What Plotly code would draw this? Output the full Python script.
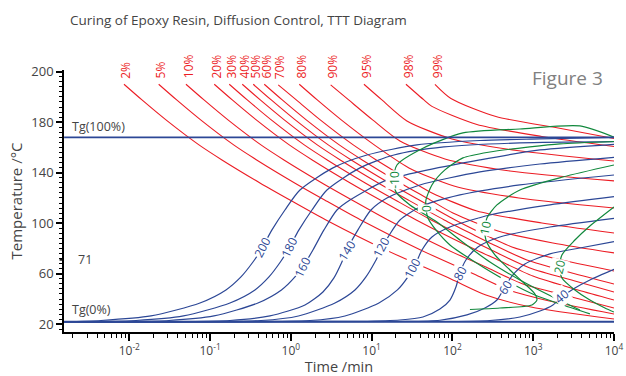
import math
import plotly.graph_objects as go

# ---------------- data (time in min, temperature in degC) ----------------
TG0 = 22.0
TG100 = 168.0
T_LIMITS = [0.00156, 10000]

red_labels = ["2%", "5%", "10%", "20%", "30%", "40%", "50%", "60%", "70%", "80%", "90%", "95%", "98%", "99%"]
red_t = [
    [0.0086, 0.01436, 0.02847, 0.0729, 0.1404, 0.4146, 0.9748, 2.720, 15.03, 95.8, 259.8, 936.6, 10000],
    [0.02312, 0.03861, 0.0765, 0.1959, 0.3774, 1.115, 2.620, 7.309, 40.42, 184.6, 500.3, 1804, 10000],
    [0.0503, 0.0841, 0.1666, 0.4266, 0.8217, 2.426, 5.705, 15.91, 87.99, 275.0, 745.8, 2688, 10000],
    [0.1127, 0.1883, 0.3731, 0.9554, 1.840, 5.436, 12.78, 35.65, 197.0, 365.8, 991.5, 3575, 10000],
    [0.1728, 0.2887, 0.5721, 1.465, 2.821, 8.332, 19.59, 54.67, 302.2, 910.4, 3282, 10000],
    [0.2504, 0.4182, 0.8289, 2.122, 4.087, 12.07, 28.38, 79.17, 184.6, 308.3, 835.9, 3013, 10000],
    [0.3424, 0.5721, 1.134, 2.903, 5.593, 16.51, 38.84, 108.3, 201.1, 545.0, 1965, 10000],
    [0.4687, 0.7827, 1.551, 3.972, 7.650, 22.59, 53.13, 101.4, 365.8, 1753, 10000],
    [0.6982, 1.167, 2.311, 5.920, 11.40, 33.68, 55.76, 201.1, 1281, 10000],
    [1.271, 2.122, 4.206, 10.77, 28.95, 104.4, 665.6, 10000],
    [3.109, 5.193, 10.29, 22.40, 80.75, 514.8, 10000],
    [8.03, 13.41, 27.35, 98.6, 628.6, 10000],
    [26.58, 44.39, 55.76, 201.1, 1281, 10000],
    [60.74, 95.8, 345.5, 2202, 10000],
]
red_T = [
    [210, 197.6, 181.8, 162.0, 150.1, 131.9, 118.4, 102.6, 78.8, 55.9, 43.2, 33.7, 24.2],
    [210, 197.6, 181.8, 162.0, 150.1, 131.9, 118.4, 102.6, 78.8, 59.8, 47.2, 37.7, 28.2],
    [210, 197.6, 181.8, 162.0, 150.1, 131.9, 118.4, 102.6, 78.8, 64.6, 51.9, 42.4, 32.9],
    [210, 197.6, 181.8, 162.0, 150.1, 131.9, 118.4, 102.6, 78.8, 70.9, 58.2, 47.1, 39.2],
    [210, 197.6, 181.8, 162.0, 150.1, 131.9, 118.4, 102.6, 78.8, 64.6, 54.3, 45.6],
    [210, 197.6, 181.8, 162.0, 150.1, 131.9, 118.4, 102.6, 90.7, 83.6, 70.9, 60.6, 51.9],
    [210, 197.6, 181.8, 162.0, 150.1, 131.9, 118.4, 102.6, 93.9, 81.2, 71.7, 62.2],
    [210, 197.6, 181.8, 162.0, 150.1, 131.9, 118.4, 108.1, 93.9, 84.4, 76.5],
    [209.5, 197.6, 181.8, 162.0, 150.1, 131.9, 124.0, 109.7, 100.2, 92.3],
    [210, 197.6, 181.8, 162.0, 143.8, 129.5, 120.0, 112.1],
    [209.5, 197.6, 181.8, 165.1, 150.9, 141.4, 133.5],
    [210, 197.6, 181.0, 166.7, 157.6, 149.3],
    [210, 197.6, 192.5, 178.2, 168.7, 160.8],
    [210, 198.8, 184.5, 175.0, 167.1],
]

blue_labels = ["200", "180", "160", "140", "120", "100", "80", "60", "40"]
blue_t = [
    [0.00156, 0.004465, 0.01856, 0.0750, 0.1573, 0.2412, 0.3396, 0.4266, 0.5837, 0.8453, 1.296, 3.319, 8.748, 36.37, 219, 1211, 10000],
    [0.00156, 0.01211, 0.04685, 0.1763, 0.3594, 0.5358, 0.7416, 0.921, 1.26, 1.825, 2.797, 7.164, 18.88, 78.5, 684.6, 10000],
    [0.00156, 0.031, 0.1117, 0.3916, 0.765, 1.124, 1.529, 1.877, 2.569, 3.72, 5.39, 15.47, 39.62, 219, 1211, 10000],
    [0.00156, 0.1763, 0.5513, 1.495, 2.496, 3.416, 4.230, 4.946, 6.768, 9.804, 15.47, 39.62, 219, 1211, 10000],
    [0.00156, 0.4266, 1.242, 3.515, 6.215, 8.504, 10.99, 13.04, 16.85, 22.4, 39.62, 123.8, 684.6, 10000],
    [0.00156, 1.723, 4.673, 12.31, 20.86, 28.13, 35.76, 41.94, 55.76, 93.13, 291.2, 1610, 10000],
    [0.00156, 7.164, 22.4, 43.14, 70.0, 93.13, 110.5, 123.8, 146.9, 206.8, 387.1, 1610, 10000],
    [0.00156, 22.4, 70.0, 151.2, 252.5, 355.5, 446.4, 545.0, 789.4, 1610, 3784, 10000],
    [0.00156, 93.13, 291.2, 684.6, 1211, 1753, 2266, 3282, 5032, 10000],
]
blue_T = [
    [22.0, 23.0, 26.6, 36.9, 47.2, 57.5, 69.3, 78.8, 94.7, 110.5, 126.3, 143.8, 154.0, 162.0, 165.5, 166.7, 167.9],
    [22.0, 23.0, 26.6, 36.9, 47.2, 57.5, 69.3, 78.8, 94.7, 110.5, 126.3, 143.8, 154.0, 160.4, 163.6, 164.6],
    [22.0, 23.0, 26.6, 36.9, 47.2, 57.5, 69.3, 78.8, 94.7, 110.5, 118.4, 134.3, 140.8, 150.1, 158.0, 162.5],
    [22.0, 23.0, 26.6, 35.3, 45.6, 56.7, 68.5, 78.8, 94.7, 110.5, 120.0, 130.3, 140.6, 146.9, 152.2],
    [22.0, 23.0, 26.6, 36.9, 47.2, 57.5, 69.3, 78.8, 91.5, 102.6, 112.9, 122.4, 130.3, 138.2],
    [22.0, 23.0, 26.6, 36.9, 47.2, 57.5, 69.3, 78.8, 89.1, 97.0, 106.5, 114.5, 121.0],
    [22.0, 22.4, 23.4, 25.8, 32.1, 39.2, 49.5, 60.6, 70.9, 81.2, 89.1, 97.0, 103.9],
    [22.0, 22.2, 23.2, 27.4, 32.9, 39.2, 49.5, 58.2, 67.7, 75.7, 80.4, 85.4],
    [22.0, 22.2, 23.0, 25.8, 30.5, 35.3, 41.6, 48.7, 55.1, 63.5],
]
blue_label_t = [0.452, 0.975, 1.411, 4.90, 13.41, 32.45, 123.8, 446.4, 2240]
blue_label_T = [81.2, 81.2, 65.6, 78.8, 81.2, 64.6, 60.4, 49.5, 41.9]
blue_label_angle = [-62, -64, -64, -58, -62, -62, -62, -58, -40]

green_labels = ["-10", "0", "10", "20"]
green_t = [
    [10000, 3784, 684.6, 134.9, 43.14, 20.57, 18.88, 19.99, 29.79, 64.3, 123.8, 291.2, 684.6, 1753, 3784],
    [10000, 2141, 910.4, 291.2, 134.9, 80.75, 55.76, 47.0, 47.0, 49.76, 62.5, 93.13, 189.9, 446.4, 1050, 2332, 5032],
    [10000, 2332, 684.6, 355.5, 267.3, 252.5, 259.8, 335.7, 514.8, 789.4, 1050, 1111, 963.8, 387.1, 164.7],
    [10000, 5032, 3282, 2266, 2141, 2266, 3282, 5032, 7717, 10000],
]
green_T = [
    [168.1, 177.0, 174.6, 171.5, 159.4, 146.1, 134.3, 124.8, 114.5, 101.0, 86.7, 69.3, 55.1, 41.6, 31.3],
    [164.7, 162.8, 160.4, 156.4, 151.7, 142.2, 130.3, 118.4, 112.1, 104.2, 94.7, 82.8, 69.3, 55.1, 43.2, 35.3, 28.2],
    [146.1, 136.6, 126.3, 114.5, 104.2, 96.2, 86.7, 74.9, 63.0, 51.9, 44.0, 39.2, 35.3, 32.9, 31.7],
    [112.9, 97.8, 86.7, 74.9, 65.4, 56.7, 47.2, 39.2, 32.9, 29.7],
]
green_label_t = [19.43, 47.94, 252.5, 2141]
green_label_T = [134.3, 111.8, 96.2, 65.4]
green_label_angle = [-90, -90, -78, -76]

x_tick_vals = [0.01, 0.1, 1, 10, 100, 1000, 10000]
x_tick_text = ["10<sup>-2</sup>", "10<sup>-1</sup>", "10<sup>0</sup>", "10<sup>1</sup>",
               "10<sup>2</sup>", "10<sup>3</sup>", "10<sup>4</sup>"]
y_tick_vals = [20, 60, 100, 140, 180, 220]
y_tick_text = ["20", "60", "100", "140", "180", "200"]

# ---------------- styling ----------------
RED = "#ec1c24"
BLUE = "#2c4796"
GREEN = "#11883c"
TXT = "#444444"
FONT = "Open Sans"

fig = go.Figure()

for t, T in zip(red_t, red_T):
    fig.add_trace(go.Scatter(x=t, y=T, mode="lines", line=dict(color=RED, width=1.1, shape="spline", smoothing=0.7),
                             hoverinfo="skip", showlegend=False))
for t, T in zip(blue_t, blue_T):
    fig.add_trace(go.Scatter(x=t, y=T, mode="lines", line=dict(color=BLUE, width=1.2, shape="spline", smoothing=0.7),
                             hoverinfo="skip", showlegend=False))
for t, T in zip(green_t, green_T):
    fig.add_trace(go.Scatter(x=t, y=T, mode="lines", line=dict(color=GREEN, width=1.2, shape="spline", smoothing=0.7),
                             hoverinfo="skip", showlegend=False))
for tg in (TG0, TG100):
    fig.add_trace(go.Scatter(x=T_LIMITS, y=[tg, tg], mode="lines", line=dict(color=BLUE, width=1.8),
                             hoverinfo="skip", showlegend=False))

ann = []
for lab, t, T in zip(red_labels, red_t, red_T):
    ann.append(dict(x=math.log10(t[0]), y=T[0], xref="x", yref="y", text=lab, showarrow=False, textangle=-90,
                    xanchor="center", yanchor="bottom", yshift=4, xshift=2,
                    font=dict(family=FONT, size=12, color=RED)))
for lab, t, T, a in zip(blue_labels, blue_label_t, blue_label_T, blue_label_angle):
    ann.append(dict(x=math.log10(t), y=T, xref="x", yref="y", text=lab, showarrow=False, textangle=a,
                    bgcolor="white", borderpad=0, font=dict(family=FONT, size=12, color=BLUE)))
for lab, t, T, a in zip(green_labels, green_label_t, green_label_T, green_label_angle):
    ann.append(dict(x=math.log10(t), y=T, xref="x", yref="y", text=lab, showarrow=False, textangle=a,
                    bgcolor="white", borderpad=0, font=dict(family=FONT, size=12, color=GREEN)))
ann.append(dict(x=0.011, y=TG100, xref="paper", yref="y", text="Tg(100%)", showarrow=False,
                xanchor="left", yanchor="bottom", yshift=0, font=dict(family=FONT, size=12.5, color=TXT)))
ann.append(dict(x=0.011, y=TG0, xref="paper", yref="y", text="Tg(0%)", showarrow=False,
                xanchor="left", yanchor="bottom", yshift=2, font=dict(family=FONT, size=12.5, color=TXT)))
ann.append(dict(x=0.022, y=71, xref="paper", yref="y", text="71", showarrow=False,
                xanchor="left", yanchor="middle", font=dict(family=FONT, size=12.5, color=TXT)))
ann.append(dict(x=0.984, y=0.97, xref="paper", yref="paper", text="Figure 3", showarrow=False,
                xanchor="right", yanchor="middle", font=dict(family=FONT, size=19, color="#808080")))

fig.update_layout(
    width=626, height=376,
    margin=dict(l=64, r=12, t=70, b=44),
    paper_bgcolor="white", plot_bgcolor="white",
    title=dict(text="Curing of Epoxy Resin, Diffusion Control, TTT Diagram", x=70 / 626, xanchor="left",
               y=1 - 20 / 376, yanchor="middle", font=dict(family=FONT, size=13.5, color=TXT)),
    annotations=ann,
    shapes=[dict(type="line", xref="paper", yref="y", x0=-0.008, x1=0, y0=71, y1=71,
                 line=dict(color="black", width=1.5))],
    font=dict(family=FONT, color=TXT),
)
fig.update_xaxes(type="log", range=[-2.808, 4.0], showgrid=False, zeroline=False, automargin=False,
                 showline=True, linecolor="black", linewidth=1.5,
                 tickmode="array", tickvals=x_tick_vals, ticktext=x_tick_text,
                 ticks="outside", ticklen=7, tickwidth=1.5, tickcolor="black",
                 tickfont=dict(family=FONT, size=12, color=TXT),
                 minor=dict(ticks="outside", ticklen=4, tickwidth=1.2, tickcolor="black",
                            tickvals=[m * 10 ** e for e in range(-3, 4) for m in range(2, 10)]),
                 title=dict(text="Time /min", font=dict(family=FONT, size=14.5, color=TXT), standoff=9))
fig.update_yaxes(range=[13.9, 221.3], showgrid=False, zeroline=False, automargin=False,
                 showline=True, linecolor="black", linewidth=1.5,
                 tickmode="array", tickvals=y_tick_vals, ticktext=y_tick_text,
                 ticks="outside", ticklen=6, tickwidth=1.5, tickcolor="black",
                 tickfont=dict(family=FONT, size=13, color=TXT),
                 minor=dict(ticks="outside", ticklen=3, tickwidth=1.2, tickcolor="black",
                            tickmode="linear", tick0=20, dtick=4),
                 title=dict(text="Temperature /°C", font=dict(family=FONT, size=15, color=TXT), standoff=5))

fig.write_html("out.html")
